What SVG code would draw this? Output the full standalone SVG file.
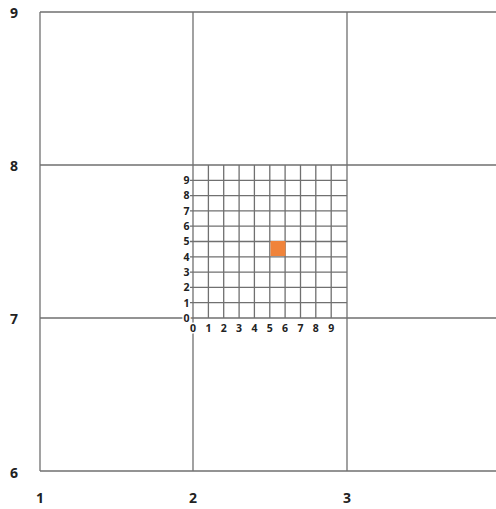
<svg xmlns="http://www.w3.org/2000/svg" width="496" height="509" viewBox="0 0 496 509">
<style>
.ln{stroke:#707070;stroke-width:1.3;fill:none}
.big{font-family:"Open Sans","Liberation Sans",sans-serif;font-weight:bold;font-size:14px;fill:#222;text-anchor:middle}
.sm{font-family:"Open Sans","Liberation Sans",sans-serif;font-weight:bold;font-size:10.5px;fill:#222}
.h{paint-order:stroke;stroke:#fff;stroke-width:3px}
</style>
<rect width="496" height="509" fill="#fff"/>
<g id="main-grid" class="ln">
<path d="M40 12H496M40 165H496M40 318H496M40 471H496M40 12V471M193 12V471M347 12V471"/>
</g>
<g id="sub-grid" class="ln">
<path d="M208.4 165V318M223.7 165V318M239.1 165V318M254.4 165V318M269.8 165V318M285.1 165V318M300.5 165V318M315.8 165V318M331.2 165V318"/>
<path d="M190 302.7H347M190 287.4H347M190 272.1H347M190 256.8H347M190 241.5H347M190 226.2H347M190 210.9H347M190 195.6H347M190 180.3H347"/>
</g>
<rect id="cell" x="270.5" y="241" width="15" height="15" fill="#f0833a"/>
<g id="labels-main" class="big">
<text x="14" y="18">9</text>
<text x="14" y="171">8</text>
<text x="14" y="324">7</text>
<text x="14" y="478">6</text>
<text x="40" y="503">1</text>
<text x="193" y="503">2</text>
<text x="347" y="503">3</text>
</g>
<g id="labels-y" class="sm" text-anchor="end">
<text x="189.5" y="321.8" class="h">0</text>
<text x="189.5" y="306.5">1</text>
<text x="189.5" y="291.2">2</text>
<text x="189.5" y="275.9">3</text>
<text x="189.5" y="260.6">4</text>
<text x="189.5" y="245.3">5</text>
<text x="189.5" y="230">6</text>
<text x="189.5" y="214.7">7</text>
<text x="189.5" y="199.4">8</text>
<text x="189.5" y="184.1">9</text>
</g>
<g id="labels-x" class="sm" text-anchor="middle">
<text x="193" y="331.5" class="h">0</text>
<text x="208.4" y="331.5">1</text>
<text x="223.7" y="331.5">2</text>
<text x="239.1" y="331.5">3</text>
<text x="254.4" y="331.5">4</text>
<text x="269.8" y="331.5">5</text>
<text x="285.1" y="331.5">6</text>
<text x="300.5" y="331.5">7</text>
<text x="315.8" y="331.5">8</text>
<text x="331.2" y="331.5">9</text>
</g>
</svg>
